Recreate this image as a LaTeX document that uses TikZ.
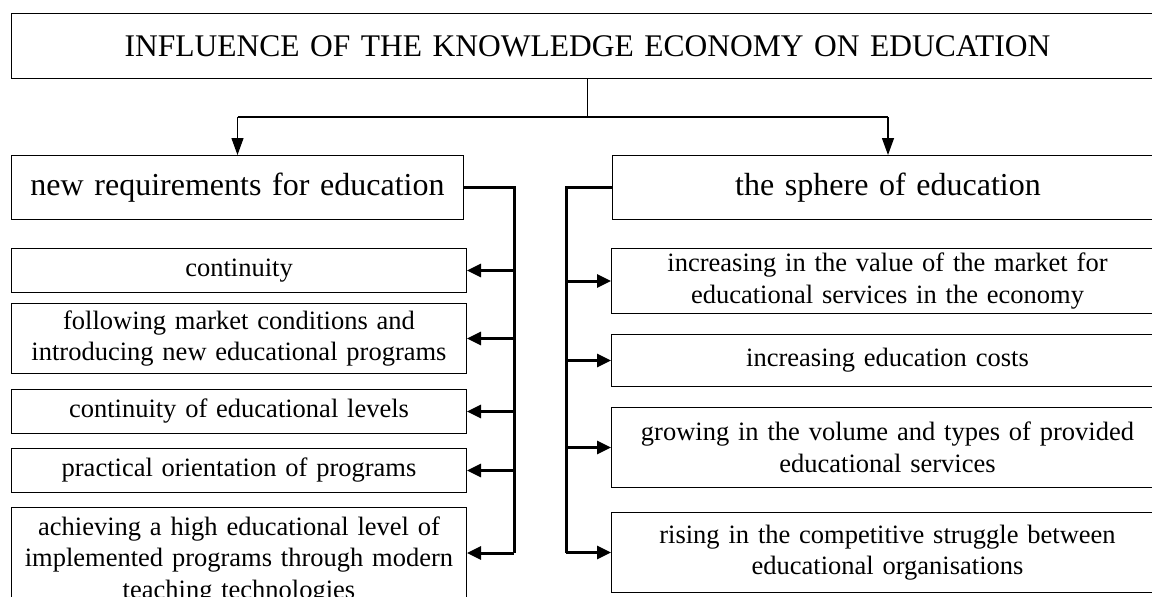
\documentclass[tikz,border=0pt]{standalone}
\usepackage{fontspec}
\setmainfont{Liberation Serif}
\usetikzlibrary{arrows.meta}

\tikzset{
  box/.style={draw, line width=1pt, anchor=north west, align=center, inner sep=0pt},
  titletext/.style={font=\fontsize{31.5}{38}\selectfont},
  bigtext/.style={font=\fontsize{32}{38}\selectfont},
  smalltext/.style={font=\fontsize{26.5}{31.5}\selectfont},
  bus/.style={line width=3pt},
  busarr/.style={line width=3pt, -{Triangle[length=14pt,width=13pt]}},
  downarr/.style={line width=1.3pt, -{Triangle[length=17pt,width=12pt]}}
}

\begin{document}
\begin{tikzpicture}[x=1pt,y=-1pt]
\useasboundingbox (0,0) rectangle (1152,597);

% Title
\node[box, titletext, minimum width=1152pt, minimum height=65pt, text width=1100pt] (title) at (11,13)
  {INFLUENCE OF THE KNOWLEDGE ECONOMY ON EDUCATION};

% Headers
\node[box, bigtext, minimum width=452pt, minimum height=64pt, text width=440pt] (lhead) at (11,155)
  {new requirements for education};
\node[box, bigtext, minimum width=551pt, minimum height=64pt, text width=520pt] (rhead) at (612,155)
  {the sphere of education};

% Split arrows
\draw[line width=1.3pt] (title.south) -- ++(0,38) coordinate (split);
\draw[line width=2.2pt] (lhead.north |- split) -- (rhead.north |- split);
\draw[downarr] (lhead.north |- split) -- (lhead.north);
\draw[downarr] (rhead.north |- split) -- (rhead.north);

% Left column
\node[box, smalltext, minimum width=455pt, minimum height=44pt, text width=435pt] (lb1) at (11,248)
  {continuity};
\node[box, smalltext, minimum width=455pt, minimum height=70pt, text width=435pt] (lb2) at (11,303)
  {following market conditions and\\introducing new educational programs};
\node[box, smalltext, minimum width=455pt, minimum height=44pt, text width=435pt] (lb3) at (11,389)
  {continuity of educational levels};
\node[box, smalltext, minimum width=455pt, minimum height=44pt, text width=435pt] (lb4) at (11,448)
  {practical orientation of programs};
\node[box, smalltext, minimum width=455pt, minimum height=106pt, text width=440pt] (lb5) at (11,507)
  {achieving a high educational level of\\implemented programs through modern\\teaching technologies};
\path (lb5.north east) ++(0,46) coordinate (lb5in);

% Right column
\node[box, smalltext, minimum width=552pt, minimum height=65pt, text width=520pt] (rb1) at (611,248)
  {increasing in the value of the market for\\educational services in the economy};
\node[box, smalltext, minimum width=552pt, minimum height=52pt, text width=520pt] (rb2) at (611,334)
  {increasing education costs};
\node[box, smalltext, minimum width=552pt, minimum height=80pt, text width=520pt] (rb3) at (611,407)
  {growing in the volume and types of provided\\educational services};
\node[box, smalltext, minimum width=552pt, minimum height=80pt, text width=520pt] (rb4) at (611,512)
  {rising in the competitive struggle between\\educational organisations};

% Left bracket
\coordinate (ltrunk) at (514,187);
\draw[bus] (lhead.east) -| (ltrunk |- lb5in);
\foreach \b in {lb1,lb2,lb3,lb4}
  \draw[busarr] (ltrunk |- \b.east) -- (\b.east);
\draw[busarr] (ltrunk |- lb5in) -- (lb5in);

% Right bracket
\coordinate (rtrunk) at (566,187);
\draw[bus] (rhead.west) -| (rtrunk |- rb4.west);
\foreach \b in {rb1,rb2,rb3,rb4}
  \draw[busarr] (rtrunk |- \b.west) -- (\b.west);
\end{tikzpicture}
\end{document}
